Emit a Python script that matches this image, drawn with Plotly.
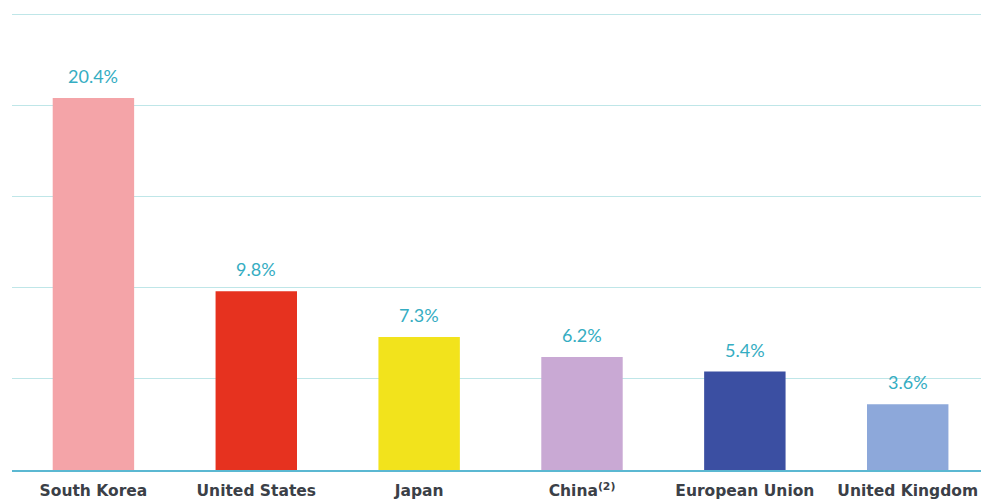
import plotly.graph_objects as go

# Share of GDP by economy (%)
countries = ["South Korea", "United States", "Japan", "China<sup>(2)</sup>",
             "European Union", "United Kingdom"]
values = [20.4, 9.8, 7.3, 6.2, 5.4, 3.6]
value_labels = ["20.4%", "9.8%", "7.3%", "6.2%", "5.4%", "3.6%"]
bar_colors = ["#f4a4a8", "#e6321f", "#f2e31c", "#c9a9d4", "#3b4fa2", "#8da8da"]
y_ticks = [0, 5, 10, 15, 20, 25]

fig = go.Figure()
fig.add_trace(go.Bar(
    x=countries,
    y=values,
    marker=dict(color=bar_colors, line=dict(width=0)),
    hoverinfo="skip",
))

for c, v, t in zip(countries, values, value_labels):
    fig.add_annotation(
        x=c, y=v, text=t, showarrow=False,
        yanchor="bottom", yshift=9,
        font=dict(family="Lato", size=18, color="#35adc2"),
    )

fig.update_layout(
    width=981, height=501,
    margin=dict(l=12, r=0, t=13, b=31),
    paper_bgcolor="white",
    plot_bgcolor="white",
    bargap=0.5,
    showlegend=False,
    xaxis=dict(
        range=[-0.5, 5.45],
        showgrid=False,
        showline=True, linecolor="#5bb8d2", linewidth=1.5,
        ticks="", ticklabelstandoff=6,
        tickfont=dict(family="DejaVu Sans", size=15.5, color="#3b4047", weight="bold"),
    ),
    yaxis=dict(
        range=[0, 25.06],
        tickvals=y_ticks,
        showticklabels=False,
        showgrid=True, gridcolor="#bfe6e8", gridwidth=1,
        zeroline=False,
    ),
)

fig.write_html("out.html")
